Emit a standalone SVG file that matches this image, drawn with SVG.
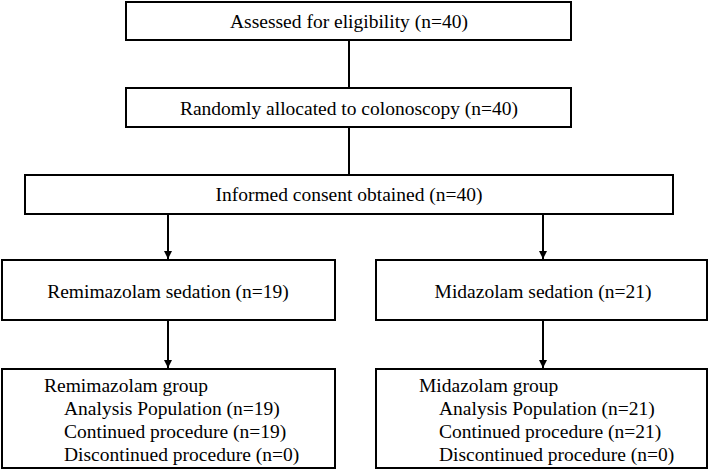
<svg xmlns="http://www.w3.org/2000/svg" width="709" height="470" viewBox="0 0 709 470" font-family="'Liberation Serif', 'Times New Roman', 'DejaVu Serif', serif">
<defs>
<style>
.box{fill:#fff;stroke:#000;stroke-width:2}
.t{font-family:'Liberation Serif','Times New Roman','DejaVu Serif',serif;font-size:19.5px;fill:#000}
.c{text-anchor:middle}
.ln{stroke:#000;stroke-width:2;fill:none}
</style>
<marker id="ah" viewBox="0 0 8 10" refX="8" refY="5" markerWidth="8" markerHeight="10" markerUnits="userSpaceOnUse" orient="auto">
<path d="M0,1 L8,5 L0,9 Z" fill="#000"/>
</marker>
</defs>
<rect width="709" height="470" fill="#fff"/>
<g id="connectors">
<line class="ln" x1="349" y1="40" x2="349" y2="88"/>
<line class="ln" x1="349" y1="127" x2="349" y2="175"/>
<line class="ln" x1="168" y1="214" x2="168" y2="259" marker-end="url(#ah)"/>
<line class="ln" x1="543" y1="214" x2="543" y2="259" marker-end="url(#ah)"/>
<line class="ln" x1="168" y1="320" x2="168" y2="368" marker-end="url(#ah)"/>
<line class="ln" x1="543" y1="320" x2="543" y2="368" marker-end="url(#ah)"/>
</g>
<g id="n1">
<rect class="box" x="126" y="2" width="445" height="38"/>
<text class="t c" x="349" y="28">Assessed for eligibility (n=40)</text>
</g>
<g id="n2">
<rect class="box" x="126" y="88" width="445" height="39"/>
<text class="t c" x="349" y="115">Randomly allocated to colonoscopy (n=40)</text>
</g>
<g id="n3">
<rect class="box" x="25" y="175" width="648" height="39"/>
<text class="t c" x="349" y="201">Informed consent obtained (n=40)</text>
</g>
<g id="n4">
<rect class="box" x="2" y="260" width="333" height="60"/>
<text class="t c" x="168" y="298">Remimazolam sedation (n=19)</text>
</g>
<g id="n5">
<rect class="box" x="376" y="260" width="331" height="60"/>
<text class="t c" x="543" y="298">Midazolam sedation (n=21)</text>
</g>
<g id="n6">
<rect class="box" x="2" y="369" width="333" height="99"/>
<text class="t" x="44" y="392">Remimazolam group</text>
<text class="t" x="64" y="415">Analysis Population (n=19)</text>
<text class="t" x="64" y="438">Continued procedure (n=19)</text>
<text class="t" x="64" y="461">Discontinued procedure (n=0)</text>
</g>
<g id="n7">
<rect class="box" x="376" y="369" width="331" height="99"/>
<text class="t" x="419" y="392">Midazolam group</text>
<text class="t" x="439" y="415">Analysis Population (n=21)</text>
<text class="t" x="439" y="438">Continued procedure (n=21)</text>
<text class="t" x="439" y="461">Discontinued procedure (n=0)</text>
</g>
</svg>
